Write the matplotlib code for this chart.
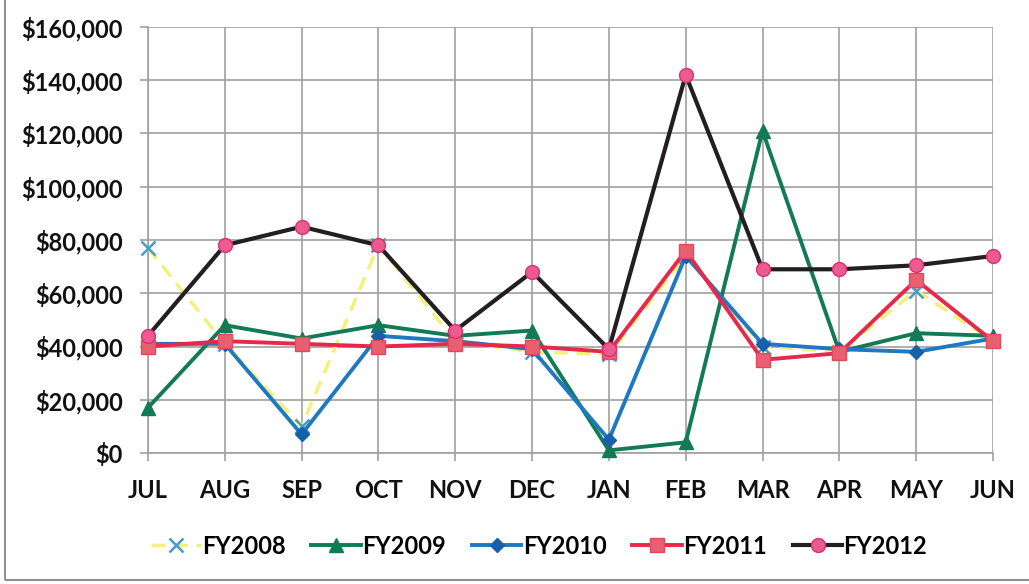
import matplotlib
matplotlib.use("Agg")
import matplotlib.pyplot as plt
from matplotlib.ticker import FuncFormatter, MultipleLocator
from matplotlib.patches import Rectangle

months = ["JUL", "AUG", "SEP", "OCT", "NOV", "DEC", "JAN", "FEB", "MAR", "APR", "MAY", "JUN"]
fy2008 = [77000, 41000, 10000, 78000, 42000, 38000, 37000, 74000, 40000, 38000, 61000, 42000]
fy2009 = [17000, 48000, 43000, 48000, 44000, 46000, 1000, 4000, 121000, 38000, 45000, 44000]
fy2010 = [41000, 41000, 7000, 44000, 42000, 39000, 5000, 74000, 41000, 39000, 38000, 43000]
fy2011 = [40000, 42000, 41000, 40000, 41000, 40000, 38000, 76000, 35000, 37500, 65000, 42000]
fy2012 = [44000, 78000, 85000, 78000, 46000, 68000, 39000, 142000, 69000, 69000, 70500, 74000]

plt.rcParams['font.family'] = ['Lato', 'DejaVu Sans']

fig = plt.figure(figsize=(10.29, 5.84), dpi=100)
ax = fig.add_axes([0.1438, 0.2243, 0.8212, 0.7295])
x = list(range(len(months)))

ax.plot(x, fy2008, color="#F2F27A", lw=2.5, ls=(0, (4, 2.5)), marker="x", ms=10,
        mec="#4A9ACB", mew=1.8, label="FY2008", zorder=3, clip_on=False)
ax.plot(x, fy2009, color="#127A55", lw=2.8, marker="^", ms=10, mfc="#127A55",
        mec="#127A55", label="FY2009", zorder=4, clip_on=False)
ax.plot(x, fy2010, color="#1E78C2", lw=2.8, marker="D", ms=7, mfc="#1560A8",
        mec="#1560A8", label="FY2010", zorder=5, clip_on=False)
ax.plot(x, fy2011, color="#E8284A", lw=2.8, marker="s", ms=10, mfc="#E86070",
        mec="#E04A60", label="FY2011", zorder=6, clip_on=False)
ax.plot(x, fy2012, color="#231F20", lw=3.0, marker="o", ms=10, mfc="#EC5A90",
        mec="#D83070", label="FY2012", zorder=7, clip_on=False)

ax.set_xlim(0, 11)
ax.set_ylim(0, 160000)
ax.yaxis.set_major_locator(MultipleLocator(20000))
ax.yaxis.set_major_formatter(FuncFormatter(lambda v, p: "${:,.0f}".format(v)))
ax.set_xticks(x)
ax.set_xticklabels(months)
ax.grid(True, color="#A0A0A0", lw=1.2)
ax.set_axisbelow(True)
for s in ["top", "right"]:
    ax.spines[s].set_visible(False)
for s in ["left", "bottom"]:
    ax.spines[s].set_color("#A0A0A0")
    ax.spines[s].set_linewidth(1.2)
ax.tick_params(axis="both", colors="#A0A0A0", length=6, width=1.2, labelcolor="#111111",
               labelsize=17)
ax.tick_params(axis="x", pad=13)
ax.tick_params(axis="y", pad=12)
for t in ax.get_xticklabels() + ax.get_yticklabels():
    t.set_fontweight("bold")

leg = fig.legend(loc="center", bbox_to_anchor=(0.524, 0.065), ncol=5, frameon=False,
                 prop={"weight": "bold", "size": 17}, handlelength=2.1, handletextpad=0.05,
                 columnspacing=1.1)

fig.patches.append(Rectangle((0.005, 0.006), 1.2, 1.2, transform=fig.transFigure,
                             fill=False, edgecolor="#909090", lw=1.5))

fig.savefig("out.png", dpi=100)
